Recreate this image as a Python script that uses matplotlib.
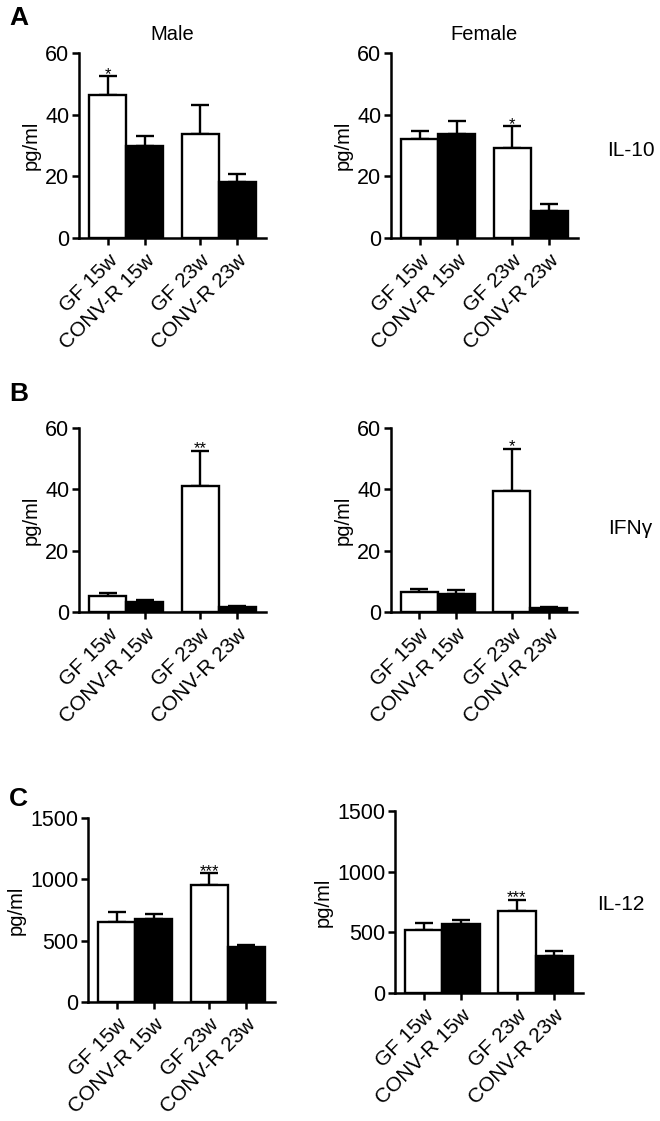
import numpy as np
import matplotlib
matplotlib.use('Agg')
import matplotlib.pyplot as plt

plt.rcParams['font.family'] = ['Liberation Sans', 'DejaVu Sans']

# group labels and values (mean and upper SEM)
groups = ['GF 15w', 'CONV-R 15w', 'GF 23w', 'CONV-R 23w']
bar_colors = ['white', 'black', 'white', 'black']

il10_male = [46.5, 29.9, 33.6, 18.1]
il10_male_err = [6.0, 3.1, 9.4, 2.6]
il10_female = [32.0, 33.8, 29.1, 8.7]
il10_female_err = [2.8, 4.2, 7.1, 2.3]

ifng_male = [5.1, 3.3, 41.0, 1.6]
ifng_male_err = [1.2, 0.5, 11.6, 0.4]
ifng_female = [6.4, 5.8, 39.5, 1.2]
ifng_female_err = [1.2, 1.5, 13.8, 0.3]

il12_male = [656, 680, 952, 449]
il12_male_err = [79, 41, 96, 19]
il12_female = [520, 570, 674, 301]
il12_female_err = [53, 30, 96, 44]

W, H = 660, 1121
fig = plt.figure(figsize=(W / 100, H / 100), dpi=100)


def rect(x0, x1, ytop, ybot):
    return [x0 / W, 1 - ybot / H, (x1 - x0) / W, (ybot - ytop) / H]


pos = np.array([0, 1, 2.5, 3.5])


def bar_panel(r, vals, errs, ymax, yticks, star_idx, star, title=None):
    ax = fig.add_axes(rect(*r))
    ax.bar(pos, vals, width=1.0, color=bar_colors, edgecolor='black',
           linewidth=1.7, zorder=2)
    ax.errorbar(pos, vals, yerr=[np.zeros(len(vals)), errs], fmt='none',
                ecolor='black', elinewidth=1.7, capsize=6.5, capthick=1.7,
                zorder=1)
    ax.annotate(star, (pos[star_idx], vals[star_idx] + errs[star_idx]),
                xytext=(0, -4), textcoords='offset points',
                ha='center', va='bottom', fontsize=12)
    ax.set_xlim(-0.77, 4.27)
    ax.set_ylim(0, ymax)
    ax.set_yticks(yticks)
    ax.set_xticks(pos)
    ax.set_xticklabels(groups, rotation=45, ha='right',
                       rotation_mode='anchor', fontsize=15)
    ax.tick_params(axis='y', labelsize=15.5, width=1.8, length=5, pad=2)
    ax.tick_params(axis='x', width=1.8, length=5, pad=4)
    for s in ['top', 'right']:
        ax.spines[s].set_visible(False)
    for s in ['left', 'bottom']:
        ax.spines[s].set_linewidth(1.8)
    ax.set_ylabel('pg/ml', fontsize=14.5, labelpad=3)
    if title:
        ax.set_title(title, fontsize=14.5, pad=9)
    return ax


bar_panel((79, 266, 53, 238), il10_male, il10_male_err, 60, [0, 20, 40, 60],
          0, '*', 'Male')
bar_panel((391, 578, 53, 238), il10_female, il10_female_err, 60,
          [0, 20, 40, 60], 2, '*', 'Female')
bar_panel((79, 266, 428, 612), ifng_male, ifng_male_err, 60, [0, 20, 40, 60],
          2, '**')
bar_panel((391, 577, 428, 612), ifng_female, ifng_female_err, 60,
          [0, 20, 40, 60], 2, '*')
bar_panel((88, 275, 818, 1002), il12_male, il12_male_err, 1500,
          [0, 500, 1000, 1500], 2, '***')
bar_panel((395, 583, 811, 993), il12_female, il12_female_err, 1500,
          [0, 500, 1000, 1500], 2, '***')

# cytokine names on the right
fig.text(607 / W, 1 - 150 / H, 'IL-10', fontsize=15, va='center')
fig.text(608 / W, 1 - 528 / H, 'IFN\u03b3', fontsize=15, va='center')
fig.text(597 / W, 1 - 905 / H, 'IL-12', fontsize=15, va='center')

# panel letters
for letter, y in [('A', 18), ('B', 394), ('C', 799)]:
    fig.text(9 / W, 1 - y / H, letter, fontsize=19, fontweight='bold',
             va='center')

fig.savefig('out.png', dpi=100)
